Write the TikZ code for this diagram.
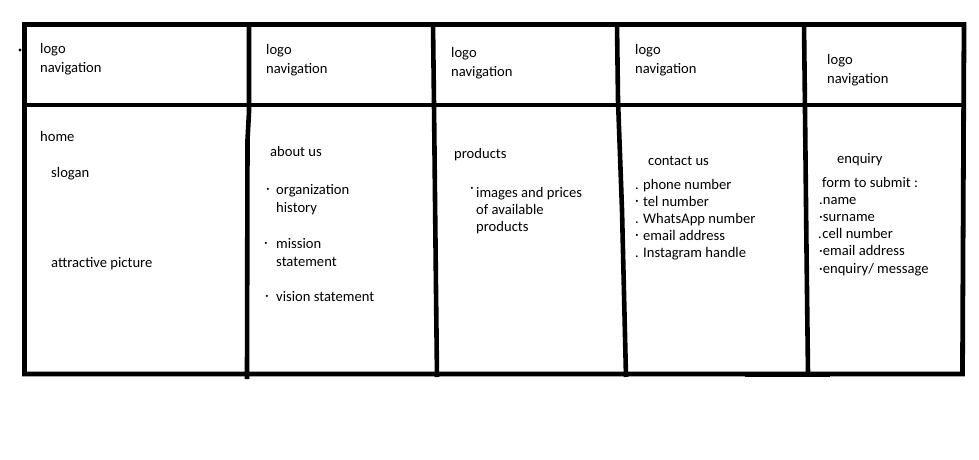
\documentclass[tikz,border=0pt]{standalone}
\usepackage{fontspec}
\setmainfont{Carlito}
\begin{document}
\begin{tikzpicture}[x=1pt,y=-1pt,
  frame/.style={line width=4.8pt, line cap=rect, line join=miter},
  divider/.style={line width=4.6pt, line cap=butt, line join=round},
  txt/.style={anchor=base west, inner sep=0pt, font=\fontsize{14.6}{17}\selectfont},
  dot/.style={txt, anchor=base}]
\useasboundingbox[fill=white] (0,0) rectangle (979,460);

% outer frame and header rule
\draw[frame] (24.5,24.5) -- (964,24.5) -- (962.5,374) -- (24.5,374) -- cycle;
\draw[frame] (24.5,105) -- (964,105);
\draw[line width=2pt] (745,376) -- (830,376);
\fill (20,50) circle (1.6);

% column dividers
\draw[divider] (249,24) -- (249,112) -- (247.5,140) -- (247,379);
\draw[divider] (433,24) -- (434,105) -- (436,290) -- (437,377);
\draw[divider] (617,24) -- (618,100) -- (622,210) -- (626,377);
\draw[divider] (804,24) -- (805,110) -- (806.5,250) -- (808,374);

% header texts
\node[txt] (l1) at (40,53) {logo};
\node[txt] (n1) at (40,72) {navigation};
\node[txt] (l2) at (266,55) {logo};
\node[txt] (n2) at (266,74) {navigation};
\node[txt] (l3) at (451,57) {logo};
\node[txt] (n3) at (451,76) {navigation};
\node[txt] (l4) at (635,55) {logo};
\node[txt] (n4) at (635,74) {navigation};
\node[txt] (l5) at (827,64) {logo};
\node[txt] (n5) at (827,83) {navigation};

% home
\node[txt] (home) at (40,141) {home};
\node[txt] (slogan) at (51,177) {slogan};
\node[txt] (pic) at (51,267) {attractive picture};

% about us
\node[txt] (about) at (270,156) {about us};
\node[dot] (b1) at (268,193) {·};
\node[txt] (org) at (276,194) {organization};
\node[txt] (hist) at (276,212) {history};
\node[dot] (b2) at (266,247) {·};
\node[txt] (mis) at (276,248) {mission};
\node[txt] (stat) at (276,266) {statement};
\node[dot] (b3) at (267,300) {·};
\node[txt] (vis) at (276,301) {vision statement};

% products
\node[dot] (b4) at (472,192) {·};
\node[txt] (prod) at (454,158) {products};
\node[txt] (img) at (476,197) {images and prices};
\node[txt] (avail) at (476,214) {of available};
\node[txt] (prod2) at (476,231) {products};

% contact us
\node[txt] (contact) at (648,165) {contact us};
\node[dot] (c1d) at (637,189) {.};
\node[txt] (c1) at (643,189) {phone number};
\node[dot] (c2d) at (637,205) {·};
\node[txt] (c2) at (643,206) {tel number};
\node[dot] (c3d) at (637,223) {.};
\node[txt] (c3) at (643,223) {WhatsApp number};
\node[dot] (c4d) at (637,239) {·};
\node[txt] (c4) at (643,240) {email address};
\node[dot] (c5d) at (637,257) {.};
\node[txt] (c5) at (643,257) {Instagram handle};

% enquiry
\node[txt] (enq) at (837,163) {enquiry};
\node[txt] (form) at (822,187) {form to submit :};
\node[txt] (e1) at (819,204) {.name};
\node[txt] (e2) at (819,221) {·surname};
\node[txt] (e3) at (818,238) {.\hspace{0.5pt}cell number};
\node[txt] (e4) at (819,255) {·email address};
\node[txt] (e5) at (819,273) {·enquiry/ message};
\end{tikzpicture}
\end{document}
